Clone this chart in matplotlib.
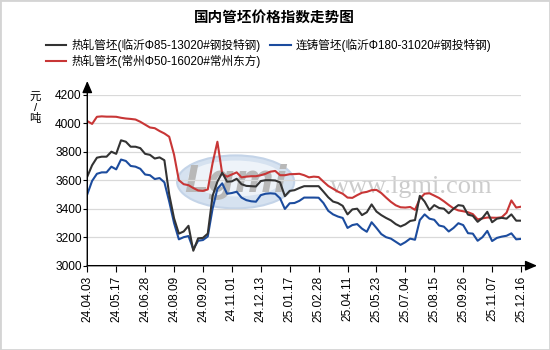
import matplotlib
matplotlib.use("Agg")
import matplotlib.pyplot as plt
from matplotlib.patches import Ellipse, Rectangle
import numpy as np

plt.rcParams['font.family'] = ['Liberation Sans', 'Noto Sans CJK SC']

# 周度价格（元/吨），每6个点一个日期标签
dates = ["24.04.03", "24.05.17", "24.06.28", "24.08.09", "24.09.20", "24.11.01",
         "24.12.13", "25.01.17", "25.02.28", "25.04.11", "25.05.23", "25.07.04",
         "25.08.15", "25.09.26", "25.11.07", "25.12.16"]

linyi_rolled = [3625, 3705, 3758, 3765, 3765, 3800, 3785, 3880, 3870, 3835,
                3835, 3825, 3785, 3778, 3752, 3760, 3740, 3500, 3333, 3225,
                3240, 3280, 3105, 3192, 3195, 3225, 3490, 3590, 3652, 3590,
                3592, 3610, 3572, 3560, 3558, 3556, 3594, 3600, 3600, 3598,
                3585, 3488, 3525, 3530, 3545, 3558, 3558, 3558, 3558, 3520,
                3480, 3450, 3440, 3420, 3360, 3395, 3400, 3355, 3375, 3430,
                3380, 3355, 3335, 3318, 3292, 3275, 3290, 3314, 3320, 3490,
                3450, 3390, 3425, 3405, 3400, 3368, 3400, 3425, 3420, 3358,
                3350, 3308, 3335, 3378, 3305, 3330, 3336, 3330, 3360, 3316,
                3316]

linyi_cast = [3501, 3595, 3645, 3655, 3655, 3695, 3676, 3745, 3735, 3700,
              3695, 3680, 3640, 3635, 3608, 3615, 3585, 3450, 3300, 3185,
              3200, 3208, 3115, 3175, 3180, 3205, 3400, 3540, 3578, 3505,
              3510, 3519, 3478, 3460, 3452, 3449, 3495, 3505, 3508, 3505,
              3473, 3398, 3438, 3440, 3455, 3478, 3478, 3478, 3477, 3440,
              3385, 3360, 3345, 3335, 3265, 3285, 3292, 3260, 3238, 3305,
              3265, 3222, 3200, 3190, 3168, 3146, 3165, 3190, 3182, 3320,
              3360, 3330, 3322, 3282, 3274, 3240, 3265, 3298, 3285, 3228,
              3225, 3175, 3200, 3244, 3173, 3195, 3204, 3210, 3227, 3185,
              3188]

changzhou_rolled = [4015, 3995, 4045, 4048, 4046, 4046, 4045, 4038, 4033, 4030,
                    4026, 4010, 3990, 3970, 3965, 3945, 3928, 3905, 3780, 3600,
                    3572, 3565, 3545, 3528, 3525, 3535, 3720, 3870, 3645, 3625,
                    3640, 3655, 3620, 3625, 3628, 3628, 3635, 3645, 3660, 3665,
                    3635, 3635, 3642, 3643, 3645, 3635, 3620, 3625, 3622, 3590,
                    3560, 3540, 3520, 3505, 3478, 3476, 3495, 3512, 3518, 3530,
                    3532, 3510, 3478, 3448, 3424, 3410, 3408, 3412, 3392, 3470,
                    3505, 3508, 3492, 3475, 3452, 3426, 3402, 3388, 3382, 3375,
                    3362, 3325, 3332, 3338, 3337, 3336, 3340, 3372, 3458, 3408,
                    3414]

labels = ["热轧管坯(临沂Φ85-13020#钢投特钢)",
          "热轧管坯(常州Φ50-16020#常州东方)",
          "连铸管坯(临沂Φ180-31020#钢投特钢)"]
yticks = [3000, 3200, 3400, 3600, 3800, 4000, 4200]

x = np.arange(len(linyi_rolled))

fig = plt.figure(figsize=(5.5, 3.5), dpi=100)
fig.patches.append(Rectangle((0, 0), 1, 1, transform=fig.transFigure,
                             fill=False, edgecolor="#d4d4d4", lw=2))

ax = fig.add_axes([0.1587, 0.2409, 0.7886, 0.4885])

# 水印
ax.add_patch(Ellipse((0.342, 0.49), 0.27, 0.31, transform=ax.transAxes,
                     facecolor="#d6e2f0", edgecolor="#c4d4e8", lw=1.5, zorder=0))
ax.add_patch(Ellipse((0.342, 0.51), 0.22, 0.21, transform=ax.transAxes,
                     facecolor="#eef3f9", edgecolor="none", zorder=0))
ax.text(0.342, 0.49, "Lgmi", transform=ax.transAxes, ha="center", va="center",
        fontsize=27, color="#b8b8b8", fontstyle="italic", fontweight="bold",
        family="DejaVu Sans", zorder=0)
ax.text(0.56, 0.46, "www.lgmi.com", transform=ax.transAxes, ha="left",
        va="center", fontsize=19, color="#cccccc", family="Liberation Serif",
        zorder=0)

l1, = ax.plot(x, linyi_rolled, color="#333333", lw=1.5, zorder=3)
l2, = ax.plot(x, changzhou_rolled, color="#c83636", lw=1.5, zorder=2)
l3, = ax.plot(x, linyi_cast, color="#1c4c9e", lw=1.5, zorder=2)

ax.set_xlim(0, len(x) - 1)
ax.set_ylim(3000, 4200)
ax.set_yticks(yticks)
ax.set_yticklabels([str(v) for v in yticks], fontsize=8.6)
ax.set_xticks(x[::6])
ax.set_xticklabels(dates, rotation=90, fontsize=8.6)
ax.tick_params(axis="y", length=3, width=0.8, pad=1)
ax.tick_params(axis="x", length=4, width=0.8, pad=3)
ax.grid(axis="y", color="#d9d9d9", lw=0.9)
ax.set_axisbelow(True)

for s in ["top", "right", "left", "bottom"]:
    ax.spines[s].set_visible(False)

# 带箭头的坐标轴
ax.annotate("", xy=(0, 1.08), xytext=(0, 0), xycoords="axes fraction",
            arrowprops=dict(arrowstyle="-|>,head_length=0.7,head_width=0.3",
                            color="black", lw=1, shrinkA=0, shrinkB=0))
ax.annotate("", xy=(1.037, 0), xytext=(0, 0), xycoords="axes fraction",
            arrowprops=dict(arrowstyle="-|>,head_length=0.7,head_width=0.3",
                            color="black", lw=1, shrinkA=0, shrinkB=0))

fig.text(0.064, 0.69, "元\n/\n吨", ha="center", va="center", fontsize=8.2,
         linespacing=1.0)

fig.text(0.498, 1 - 17 / 350, "国内管坯价格指数走势图", ha="center", va="center",
         fontsize=10.5, fontweight="bold", family="Noto Sans CJK SC")

fig.legend([l1, l2, l3], labels, ncol=2, loc="upper left",
           bbox_to_anchor=(0.083, 1 - 39 / 350), frameon=False, fontsize=8.4,
           handlelength=1.75, handletextpad=0.45, columnspacing=0.85,
           borderpad=0, borderaxespad=0, labelspacing=0.2)

fig.savefig("out.png", dpi=100)
